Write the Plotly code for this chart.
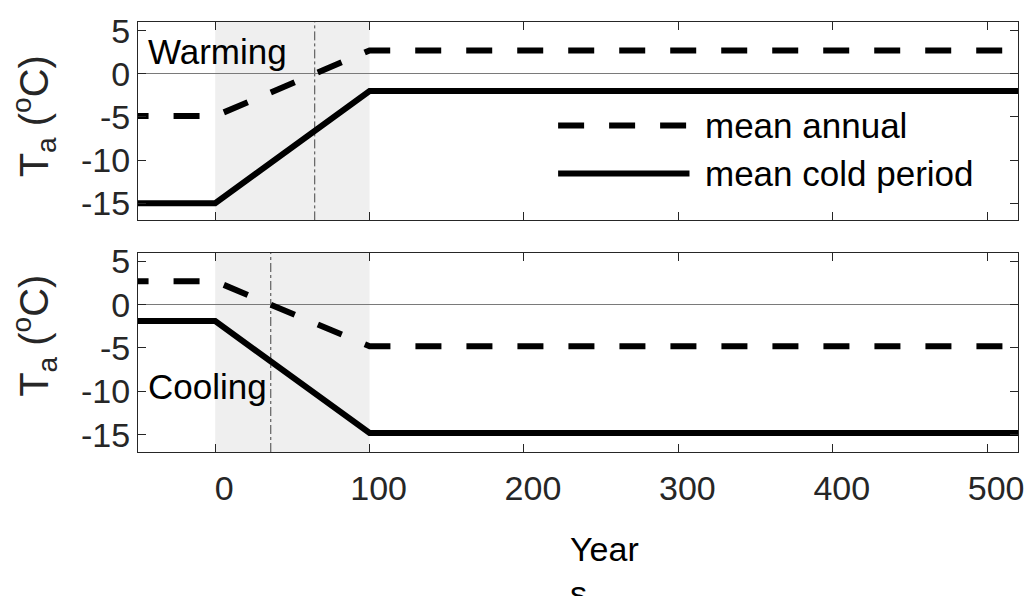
import numpy as np
import plotly.graph_objects as go
from plotly.subplots import make_subplots

# Forcing scenarios: step, 100-year ramp, then constant
years = [-60, 0, 100, 530]
ramp_start, ramp_end = 0, 100

warm_annual = [-4.9, -4.9, 2.7, 2.7]
warm_cold = [-15.0, -15.0, -2.0, -2.0]
cool_annual = [2.7, 2.7, -4.8, -4.8]
cool_cold = [-1.9, -1.9, -14.8, -14.8]

x_ticks = [0, 100, 200, 300, 400, 500]
y_ticks = [5, 0, -5, -10, -15]
y_tick_labels = ["5", "0", "-5", "-10", "-15"]

FONT = "Liberation Sans, Arial, sans-serif"
AX = "#262626"
DASH = "26px,25px"
LW = 6

fig = make_subplots(rows=2, cols=1, shared_xaxes=False, vertical_spacing=0.075)

panels = [
    (1, warm_annual, warm_cold),
    (2, cool_annual, cool_cold),
]

for row, annual, cold in panels:
    fig.add_trace(go.Scatter(x=years, y=annual, mode="lines",
                             line=dict(color="black", width=LW, dash=DASH),
                             name="mean annual", showlegend=False), row=row, col=1)
    fig.add_trace(go.Scatter(x=years, y=cold, mode="lines",
                             line=dict(color="black", width=LW),
                             name="mean cold period", showlegend=False), row=row, col=1)

    xr = "x" if row == 1 else "x2"
    yr = "y" if row == 1 else "y2"
    # ramp period shading
    fig.add_shape(type="rect", xref=xr, yref=yr + " domain", x0=ramp_start, x1=ramp_end,
                  y0=0, y1=1, fillcolor="#efefef", line_width=0, layer="below")
    # year when the mean annual temperature crosses 0 °C
    seg = np.array(annual[1:3])
    xs = np.array(years[1:3])
    order = np.argsort(seg)
    t0 = float(np.interp(0.0, seg[order], xs[order]))
    fig.add_shape(type="line", xref=xr, yref=yr + " domain", x0=t0, x1=t0, y0=0, y1=1,
                  line=dict(color="#444444", width=1, dash="dashdot"), layer="below")

fig.add_annotation(text="Warming", xref="x", yref="y", x=-45, y=2.6,
                   xanchor="left", yanchor="middle", showarrow=False,
                   font=dict(family=FONT, size=35, color="black"))
fig.add_annotation(text="Cooling", xref="x2", yref="y2", x=-45, y=-9.5,
                   xanchor="left", yanchor="middle", showarrow=False,
                   font=dict(family=FONT, size=35, color="black"))

# legend drawn in the top panel
leg_x0, leg_x1 = 0.4774, 0.6267
for yy, dash, txt in [(0.478, DASH, "mean annual"), (0.2365, "solid", "mean cold period")]:
    fig.add_shape(type="line", xref="x domain", yref="y domain", x0=leg_x0, x1=leg_x1,
                  y0=yy, y1=yy, line=dict(color="black", width=LW, dash=dash), layer="above")
    fig.add_annotation(text=txt, xref="x domain", yref="y domain", x=0.6425, y=yy,
                       xanchor="left", yanchor="middle", showarrow=False,
                       font=dict(family=FONT, size=35, color="black"))

axis_common = dict(showline=True, linecolor=AX, linewidth=1, mirror="ticks",
                   ticks="inside", ticklen=8, tickwidth=1, tickcolor=AX,
                   showgrid=False, tickfont=dict(family=FONT, size=34, color=AX))

for row in (1, 2):
    fig.update_xaxes(range=[-50, 520], tickvals=x_ticks, zeroline=False,
                     showticklabels=(row == 2), row=row, col=1, **axis_common)
    fig.update_yaxes(range=[-17, 6], tickvals=y_ticks, ticktext=y_tick_labels,
                     zeroline=True, zerolinecolor="#7a7a7a", zerolinewidth=1,
                     row=row, col=1, **axis_common)

fig.update_xaxes(ticklabelstandoff=6, ticklabelshift=9, row=2, col=1)

fig.update_layout(
    width=1036, height=596,
    margin=dict(l=138, r=14, t=12, b=144),
    plot_bgcolor="white", paper_bgcolor="white",
    font=dict(family=FONT, color=AX),
    showlegend=False,
)
fig.update_layout(yaxis=dict(domain=[0.5386, 1.0]), yaxis2=dict(domain=[0.0, 0.4636]))

# y-axis titles
for yc in (0.781, 0.2705):
    fig.add_annotation(text="T<sub>a</sub> (<sup>o</sup>C)", xref="paper", yref="paper",
                       x=-0.118, y=yc, xanchor="center", yanchor="middle",
                       textangle=-90, showarrow=False,
                       font=dict(family=FONT, size=40, color=AX))

fig.add_annotation(text="Year<br>s", xref="paper", yref="paper", x=0.4887, y=-0.177,
                   xanchor="left", yanchor="top", align="left", showarrow=False,
                   font=dict(family=FONT, size=34, color="black"))

fig.write_html("out.html")
